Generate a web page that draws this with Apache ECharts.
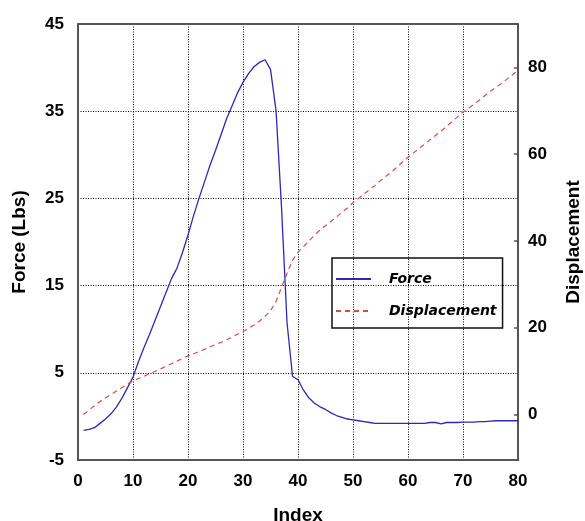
<!DOCTYPE html>
<html><head><meta charset="utf-8">
<script src="https://cdn.jsdelivr.net/npm/echarts@6/dist/echarts.min.js"></script>
<style>html,body{margin:0;padding:0;background:#fff}#c{width:585px;height:521px}</style>
</head><body><div id="c"></div>
<script>
const indexValues = [1,2,3,4,5,6,7,8,9,10,11,12,13,14,15,16,17,18,19,20,21,22,23,24,25,26,27,28,29,30,31,32,33,34,35,36,37,38,39,40,41,42,43,44,45,46,47,48,49,50,51,52,53,54,55,56,57,58,59,60,61,62,63,64,65,66,67,68,69,70,71,72,73,74,75,76,77,78,79,80];
const forceValues = [-1.6,-1.5,-1.3,-0.8,-0.3,0.3,1.1,2.1,3.3,4.5,6.3,7.9,9.4,11.0,12.6,14.2,15.8,17.0,18.8,20.8,23.0,25.0,26.9,28.8,30.5,32.3,34.1,35.6,37.1,38.3,39.3,40.1,40.6,40.9,39.8,35.1,24.0,10.8,4.6,4.2,3.0,2.1,1.5,1.1,0.8,0.4,0.1,-0.1,-0.3,-0.4,-0.5,-0.6,-0.7,-0.8,-0.8,-0.8,-0.8,-0.8,-0.8,-0.8,-0.8,-0.8,-0.8,-0.7,-0.7,-0.85,-0.7,-0.7,-0.7,-0.65,-0.65,-0.65,-0.6,-0.6,-0.55,-0.5,-0.5,-0.5,-0.5,-0.5];
const displacementValues = [0.0,1.0,2.0,3.0,3.8,4.6,5.4,6.2,7.0,7.7,8.3,8.8,9.4,9.9,10.5,11.1,11.7,12.3,12.9,13.5,14.0,14.5,15.0,15.6,16.1,16.6,17.2,17.8,18.5,19.1,19.8,20.6,21.5,22.6,23.9,26.0,29.3,32.5,35.5,37.4,38.7,40.0,41.3,42.5,43.5,44.5,45.5,46.6,47.6,48.8,49.8,50.8,51.8,52.8,53.9,54.9,55.9,57.0,58.2,59.3,60.3,61.3,62.3,63.3,64.3,65.3,66.4,67.5,68.6,69.7,70.6,71.5,72.5,73.5,74.5,75.4,76.3,77.3,78.3,79.3];
const indexTicks = [0,10,20,30,40,50,60,70,80];
const forceTicks = [-5,5,15,25,35,45];
const displacementTicks = [0,20,40,60,80];

const forceData = indexValues.map((x, i) => [x, forceValues[i]]);
const dispData = indexValues.map((x, i) => [x, displacementValues[i]]);

const labelFont = {fontFamily: 'Liberation Sans, Arial, sans-serif', fontWeight: 'bold', fontSize: 17, color: '#000'};
const nameFont = {fontFamily: 'Liberation Sans, Arial, sans-serif', fontWeight: 'bold', fontSize: 19, color: '#000'};
const frame = {show: true, onZero: false, lineStyle: {color: '#555', width: 2}};
const grid = {show: true, lineStyle: {color: '#000', width: 1, type: [1, 1.5]}};

const chart = echarts.init(document.getElementById('c'), null, {renderer: 'canvas'});
chart.setOption({
  animation: false,
  backgroundColor: '#fff',
  grid: {left: 78, right: 67, top: 24, bottom: 61, containLabel: false, outerBoundsMode: 'none'},
  legend: {
    orient: 'vertical', left: 332, top: 258,
    backgroundColor: 'transparent', borderColor: '#111', borderWidth: 1.5,
    padding: [13, 6, 9, 3], itemGap: 16, itemWidth: 35, itemHeight: 14,
    itemStyle: {opacity: 0},
    textStyle: {fontFamily: 'DejaVu Sans', fontStyle: 'italic', fontWeight: 'bold', fontSize: 14, color: '#000', padding: [0, 0, 0, 13], lineHeight: 16},
    data: ['Force', 'Displacement']
  },
  xAxis: [{
    type: 'value', min: 0, max: 80, interval: 10, position: 'bottom',
    name: 'Index', nameLocation: 'middle', nameGap: 46, nameTextStyle: nameFont,
    axisLine: frame, axisTick: {show: false},
    axisLabel: Object.assign({margin: 13, customValues: indexTicks}, labelFont),
    splitLine: grid
  }, {
    type: 'value', min: 0, max: 80, position: 'top',
    axisLine: frame, axisTick: {show: false}, axisLabel: {show: false}, splitLine: {show: false}
  }],
  yAxis: [{
    type: 'value', min: -5, max: 45, interval: 10, position: 'left',
    name: 'Force (Lbs)', nameLocation: 'middle', nameGap: 49, nameTextStyle: nameFont,
    axisLine: frame, axisTick: {show: false},
    axisLabel: Object.assign({margin: 14, customValues: forceTicks}, labelFont),
    splitLine: grid
  }, {
    type: 'value', min: -10.5, max: 90, position: 'right',
    name: 'Displacement', nameLocation: 'middle', nameGap: 46, nameTextStyle: nameFont,
    axisLine: frame,
    axisTick: {show: true, inside: true, length: 4, customValues: displacementTicks, lineStyle: {color: '#555', width: 1.5}},
    axisLabel: Object.assign({margin: 10, customValues: displacementTicks}, labelFont),
    splitLine: {show: false}
  }],
  series: [{
    name: 'Force', type: 'line', xAxisIndex: 0, yAxisIndex: 0, data: forceData,
    symbol: 'none', smooth: false, lineStyle: {color: '#2a2ab8', width: 1.3}, itemStyle: {color: '#2a2ab8'}, z: 3
  }, {
    name: 'Displacement', type: 'line', xAxisIndex: 0, yAxisIndex: 1, data: dispData,
    symbol: 'none', smooth: false, lineStyle: {color: '#e04848', width: 1.2, type: [5, 4]}, itemStyle: {color: '#e04848'}, z: 3
  }]
});
</script>
</body></html>
